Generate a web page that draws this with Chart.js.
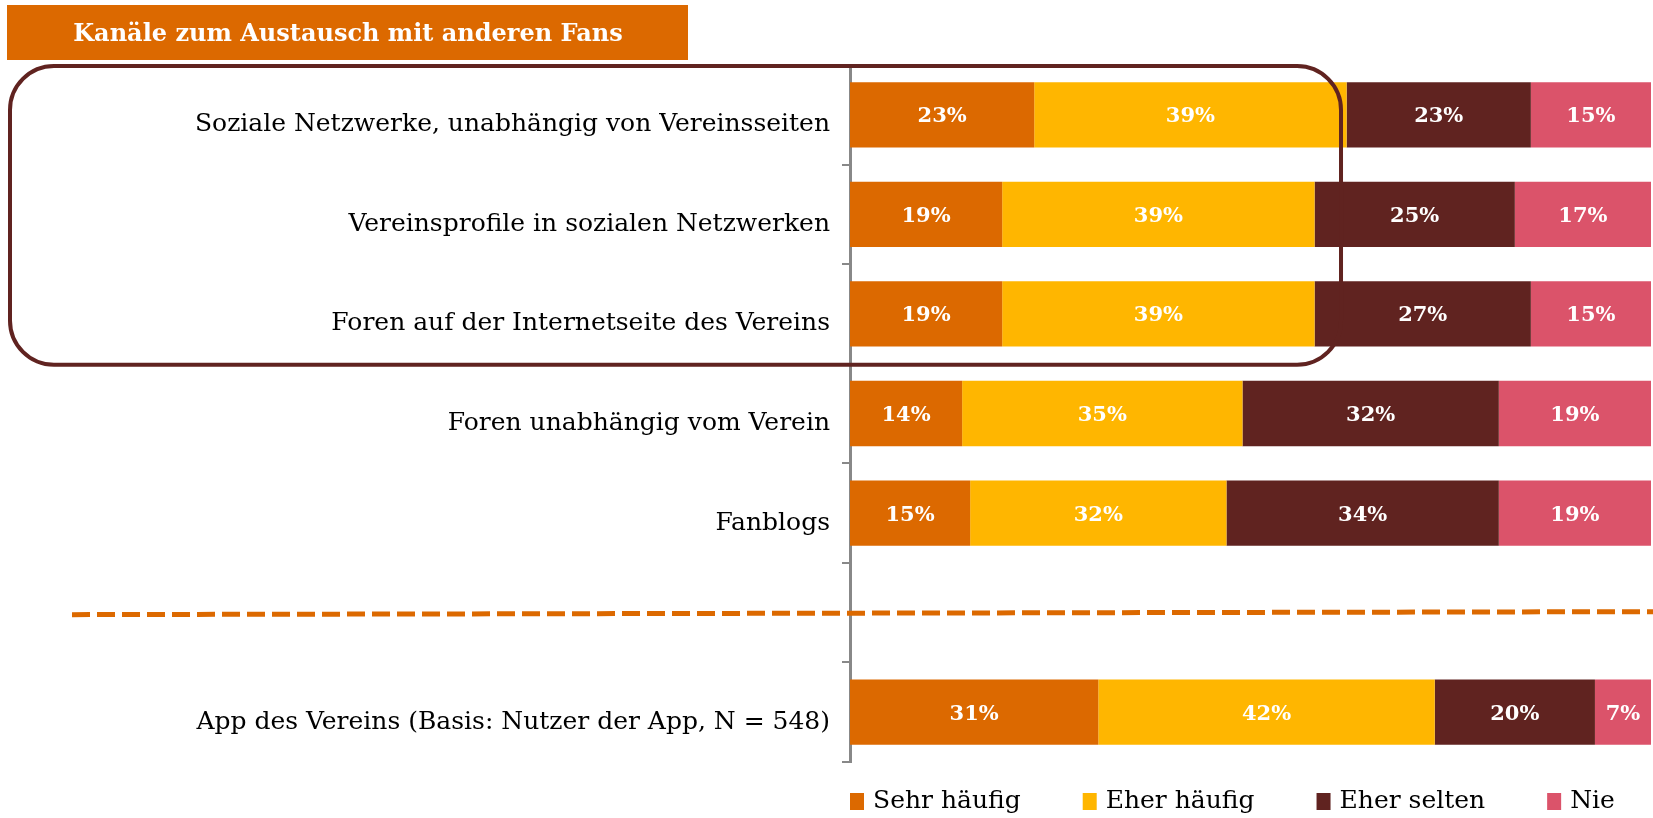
<!DOCTYPE html>
<html>
<head>
<meta charset="utf-8">
<title>Kanäle zum Austausch mit anderen Fans</title>
<script src="https://cdn.jsdelivr.net/npm/chart.js@4.4.1/dist/chart.umd.min.js"></script>
<style>
  html, body { margin: 0; padding: 0; background: #fff; }
  #wrap { width: 1653px; height: 818px; }
</style>
</head>
<body>
<div id="wrap"><canvas id="chart" width="1653" height="818"></canvas></div>
<script>
const chartTitle = "Kanäle zum Austausch mit anderen Fans";

// "" = leerer Platz für die Trennlinie vor der App-Zeile
const categories = [
  "Soziale Netzwerke, unabhängig von Vereinsseiten",
  "Vereinsprofile in sozialen Netzwerken",
  "Foren auf der Internetseite des Vereins",
  "Foren unabhängig vom Verein",
  "Fanblogs",
  "",
  "App des Vereins (Basis: Nutzer der App, N = 548)"
];

const sehrHaeufig = [23, 19, 19, 14, 15, null, 31];
const eherHaeufig = [39, 39, 39, 35, 32, null, 42];
const eherSelten  = [23, 25, 27, 32, 34, null, 20];
const nie         = [15, 17, 15, 19, 19, null, 7];

const seriesNames  = ["Sehr häufig", "Eher häufig", "Eher selten", "Nie"];
const seriesColors = ["#DC6900", "#FFB600", "#602320", "#DB536A"];

const SERIF = "'DejaVu Serif', Georgia, serif";

// orange title box on top left
const titleBox = {
  id: "titleBox",
  beforeDraw(chart) {
    const ctx = chart.ctx;
    ctx.save();
    ctx.fillStyle = "#DC6900";
    ctx.fillRect(7, 5, 681, 55);
    ctx.fillStyle = "#fff";
    ctx.font = "bold 24px " + SERIF;
    ctx.textAlign = "center";
    ctx.textBaseline = "middle";
    ctx.fillText(chartTitle, 348, 35);
    ctx.restore();
  }
};

// percent labels in the middle of each segment
const barLabels = {
  id: "barLabels",
  afterDatasetsDraw(chart) {
    const ctx = chart.ctx;
    ctx.save();
    ctx.fillStyle = "#fff";
    ctx.font = "bold 21px " + SERIF;
    ctx.textAlign = "center";
    ctx.textBaseline = "middle";
    chart.data.datasets.forEach((ds, i) => {
      chart.getDatasetMeta(i).data.forEach((bar, j) => {
        const v = ds.data[j];
        if (v == null) return;
        const p = bar.getCenterPoint();
        ctx.fillText(v + "%", p.x, p.y + 2);
      });
    });
    ctx.restore();
  }
};

// rounded frame around the first three rows + dashed separator
const marks = {
  id: "marks",
  afterDatasetsDraw(chart) {
    const ctx = chart.ctx;
    const x = chart.scales.x;
    const y = chart.scales.y;
    const half = (y.getPixelForValue(1) - y.getPixelForValue(0)) / 2;

    ctx.save();
    // dashed line in the empty row
    const yd = y.getPixelForValue(5) + 2;
    ctx.strokeStyle = "#DC6900";
    ctx.lineWidth = 5;
    ctx.setLineDash([18, 7]);
    ctx.beginPath();
    ctx.moveTo(72, yd);
    ctx.lineTo(1653, yd - 3);
    ctx.stroke();

    // frame
    ctx.setLineDash([]);
    ctx.strokeStyle = "#602320";
    ctx.lineWidth = 4;
    const top = y.getPixelForValue(0) - half + 1;
    const bottom = y.getPixelForValue(2) + half + 1;
    const left = 10;
    const right = x.getPixelForValue(61.3);
    ctx.beginPath();
    ctx.roundRect(left, top, right - left, bottom - top, 44);
    ctx.stroke();
    ctx.restore();
  }
};

// legend under the plot, starting at the axis
const legendRow = {
  id: "legendRow",
  afterDraw(chart) {
    const ctx = chart.ctx;
    let lx = chart.chartArea.left;
    const ly = 801;
    ctx.save();
    ctx.font = "25px " + SERIF;
    ctx.textBaseline = "middle";
    ctx.textAlign = "left";
    chart.data.datasets.forEach(ds => {
      ctx.fillStyle = ds.backgroundColor;
      ctx.fillRect(lx, ly - 8, 14, 17);
      ctx.fillStyle = "#000";
      ctx.fillText(ds.label, lx + 23, ly);
      lx += 23 + ctx.measureText(ds.label).width + 62;
    });
    ctx.restore();
  }
};

const datasets = [sehrHaeufig, eherHaeufig, eherSelten, nie].map((vals, i) => ({
  label: seriesNames[i],
  data: vals,
  backgroundColor: seriesColors[i],
  borderWidth: 0,
  barPercentage: 0.656,
  categoryPercentage: 1.0
}));

new Chart(document.getElementById("chart"), {
  type: "bar",
  data: { labels: categories, datasets: datasets },
  options: {
    indexAxis: "y",
    responsive: false,
    devicePixelRatio: 1,
    animation: false,
    layout: { padding: { top: 65, bottom: 56, right: 2, left: 0 } },
    plugins: {
      legend: { display: false },
      tooltip: { enabled: false }
    },
    scales: {
      x: { stacked: true, min: 0, max: 100, display: false },
      y: {
        stacked: true,
        afterFit(scale) { scale.width = 850; },
        grid: { drawOnChartArea: false, offset: true, tickLength: 8, color: "#888", lineWidth: 2 },
        border: { color: "#888", width: 3 },
        ticks: {
          autoSkip: false,
          color: "#000",
          padding: 12,
          labelOffset: 10,
          font: { family: SERIF, size: 25 }
        }
      }
    }
  },
  plugins: [titleBox, barLabels, marks, legendRow]
});
</script>
</body>
</html>
